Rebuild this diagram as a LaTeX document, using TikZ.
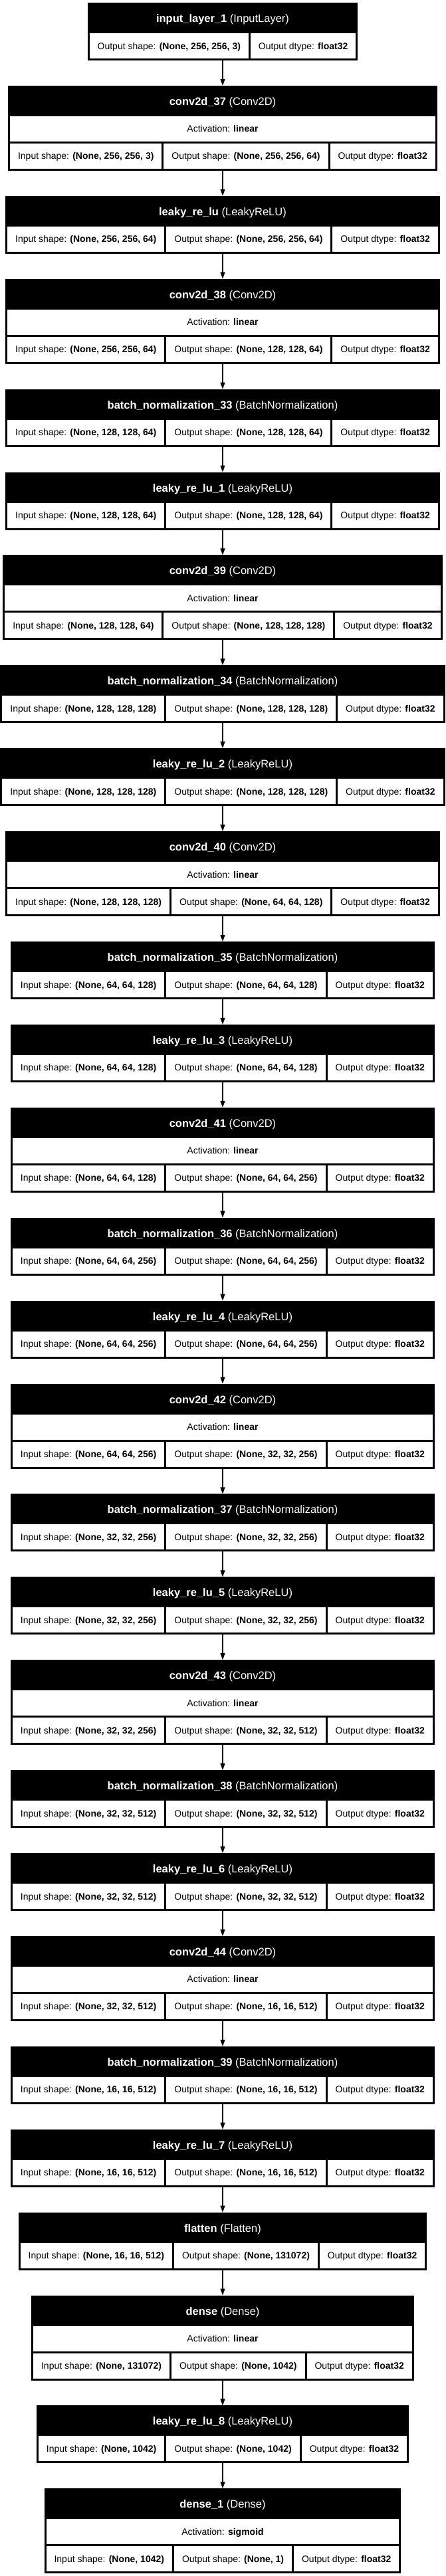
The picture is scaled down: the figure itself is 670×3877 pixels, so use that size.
\documentclass[tikz,border=0pt]{standalone}
\usepackage{fontspec}
\setmainfont{Liberation Sans}
\usetikzlibrary{positioning,arrows.meta}

\setlength{\fboxsep}{0pt}
\newsavebox\shaperow
\newcommand\shapecell[2]{\colorbox{white}{\rule[-14pt]{0pt}{38pt}\hspace{12pt}#1 \textbf{#2}\hspace{12pt}}}
\newcommand\headrow[2]{\hbox to \wd\shaperow{\hss\rule[-16.5pt]{0pt}{43pt}{\color{white}\fontsize{16.5}{18}\selectfont\textbf{#1} (#2)}\hss}}
\newcommand\inlayer[3]{%
  \sbox\shaperow{\shapecell{Output shape:}{#3}\hspace{3pt}\shapecell{Output dtype:}{float32}}%
  \vbox{\offinterlineskip\headrow{#1}{#2}\hbox{\usebox\shaperow}}}
\newcommand\plainlayer[4]{%
  \sbox\shaperow{\shapecell{Input shape:}{#3}\hspace{3pt}\shapecell{Output shape:}{#4}\hspace{3pt}\shapecell{Output dtype:}{float32}}%
  \vbox{\offinterlineskip\headrow{#1}{#2}\hbox{\usebox\shaperow}}}
\newcommand\actlayer[5]{%
  \sbox\shaperow{\shapecell{Input shape:}{#4}\hspace{3pt}\shapecell{Output shape:}{#5}\hspace{3pt}\shapecell{Output dtype:}{float32}}%
  \vbox{\offinterlineskip\headrow{#1}{#2}%
    \hbox{\colorbox{white}{\hbox to \wd\shaperow{\hss\rule[-14pt]{0pt}{38pt}Activation: \textbf{#3}\hss}}}%
    \vskip3pt
    \hbox{\usebox\shaperow}}}

\begin{document}
\begin{tikzpicture}[node distance=37.9pt,
    layerbox/.style={fill=black, inner sep=3pt, outer sep=0pt, font=\fontsize{14}{16}\selectfont},
    >={Triangle[length=10pt,width=7pt]}, line width=1.2pt]
    \useasboundingbox (-335pt,4pt) rectangle (335pt,-3873pt);

    \node[layerbox, anchor=north] (input) at (0,0) {\inlayer{input\_layer\_1}{InputLayer}{(None, 256, 256, 3)}};
    \node[layerbox, below=of input] (conv37) {\actlayer{conv2d\_37}{Conv2D}{linear}{(None, 256, 256, 3)}{(None, 256, 256, 64)}};
    \node[layerbox, below=of conv37] (lrelu0) {\plainlayer{leaky\_re\_lu}{LeakyReLU}{(None, 256, 256, 64)}{(None, 256, 256, 64)}};
    \node[layerbox, below=of lrelu0] (conv38) {\actlayer{conv2d\_38}{Conv2D}{linear}{(None, 256, 256, 64)}{(None, 128, 128, 64)}};
    \node[layerbox, below=of conv38] (bn33) {\plainlayer{batch\_normalization\_33}{BatchNormalization}{(None, 128, 128, 64)}{(None, 128, 128, 64)}};
    \node[layerbox, below=of bn33] (lrelu1) {\plainlayer{leaky\_re\_lu\_1}{LeakyReLU}{(None, 128, 128, 64)}{(None, 128, 128, 64)}};
    \node[layerbox, below=of lrelu1] (conv39) {\actlayer{conv2d\_39}{Conv2D}{linear}{(None, 128, 128, 64)}{(None, 128, 128, 128)}};
    \node[layerbox, below=of conv39] (bn34) {\plainlayer{batch\_normalization\_34}{BatchNormalization}{(None, 128, 128, 128)}{(None, 128, 128, 128)}};
    \node[layerbox, below=of bn34] (lrelu2) {\plainlayer{leaky\_re\_lu\_2}{LeakyReLU}{(None, 128, 128, 128)}{(None, 128, 128, 128)}};
    \node[layerbox, below=of lrelu2] (conv40) {\actlayer{conv2d\_40}{Conv2D}{linear}{(None, 128, 128, 128)}{(None, 64, 64, 128)}};
    \node[layerbox, below=of conv40] (bn35) {\plainlayer{batch\_normalization\_35}{BatchNormalization}{(None, 64, 64, 128)}{(None, 64, 64, 128)}};
    \node[layerbox, below=of bn35] (lrelu3) {\plainlayer{leaky\_re\_lu\_3}{LeakyReLU}{(None, 64, 64, 128)}{(None, 64, 64, 128)}};
    \node[layerbox, below=of lrelu3] (conv41) {\actlayer{conv2d\_41}{Conv2D}{linear}{(None, 64, 64, 128)}{(None, 64, 64, 256)}};
    \node[layerbox, below=of conv41] (bn36) {\plainlayer{batch\_normalization\_36}{BatchNormalization}{(None, 64, 64, 256)}{(None, 64, 64, 256)}};
    \node[layerbox, below=of bn36] (lrelu4) {\plainlayer{leaky\_re\_lu\_4}{LeakyReLU}{(None, 64, 64, 256)}{(None, 64, 64, 256)}};
    \node[layerbox, below=of lrelu4] (conv42) {\actlayer{conv2d\_42}{Conv2D}{linear}{(None, 64, 64, 256)}{(None, 32, 32, 256)}};
    \node[layerbox, below=of conv42] (bn37) {\plainlayer{batch\_normalization\_37}{BatchNormalization}{(None, 32, 32, 256)}{(None, 32, 32, 256)}};
    \node[layerbox, below=of bn37] (lrelu5) {\plainlayer{leaky\_re\_lu\_5}{LeakyReLU}{(None, 32, 32, 256)}{(None, 32, 32, 256)}};
    \node[layerbox, below=of lrelu5] (conv43) {\actlayer{conv2d\_43}{Conv2D}{linear}{(None, 32, 32, 256)}{(None, 32, 32, 512)}};
    \node[layerbox, below=of conv43] (bn38) {\plainlayer{batch\_normalization\_38}{BatchNormalization}{(None, 32, 32, 512)}{(None, 32, 32, 512)}};
    \node[layerbox, below=of bn38] (lrelu6) {\plainlayer{leaky\_re\_lu\_6}{LeakyReLU}{(None, 32, 32, 512)}{(None, 32, 32, 512)}};
    \node[layerbox, below=of lrelu6] (conv44) {\actlayer{conv2d\_44}{Conv2D}{linear}{(None, 32, 32, 512)}{(None, 16, 16, 512)}};
    \node[layerbox, below=of conv44] (bn39) {\plainlayer{batch\_normalization\_39}{BatchNormalization}{(None, 16, 16, 512)}{(None, 16, 16, 512)}};
    \node[layerbox, below=of bn39] (lrelu7) {\plainlayer{leaky\_re\_lu\_7}{LeakyReLU}{(None, 16, 16, 512)}{(None, 16, 16, 512)}};
    \node[layerbox, below=of lrelu7] (flat) {\plainlayer{flatten}{Flatten}{(None, 16, 16, 512)}{(None, 131072)}};
    \node[layerbox, below=of flat] (dense) {\actlayer{dense}{Dense}{linear}{(None, 131072)}{(None, 1042)}};
    \node[layerbox, below=of dense] (lrelu8) {\plainlayer{leaky\_re\_lu\_8}{LeakyReLU}{(None, 1042)}{(None, 1042)}};
    \node[layerbox, below=of lrelu8] (dense1) {\actlayer{dense\_1}{Dense}{sigmoid}{(None, 1042)}{(None, 1)}};

    % connections
    \foreach \a/\b in {input/conv37, conv37/lrelu0, lrelu0/conv38, conv38/bn33, bn33/lrelu1,
        lrelu1/conv39, conv39/bn34, bn34/lrelu2, lrelu2/conv40, conv40/bn35, bn35/lrelu3,
        lrelu3/conv41, conv41/bn36, bn36/lrelu4, lrelu4/conv42, conv42/bn37, bn37/lrelu5,
        lrelu5/conv43, conv43/bn38, bn38/lrelu6, lrelu6/conv44, conv44/bn39, bn39/lrelu7,
        lrelu7/flat, flat/dense, dense/lrelu8, lrelu8/dense1}
        \draw[->] (\a) -- (\b);
\end{tikzpicture}
\end{document}
